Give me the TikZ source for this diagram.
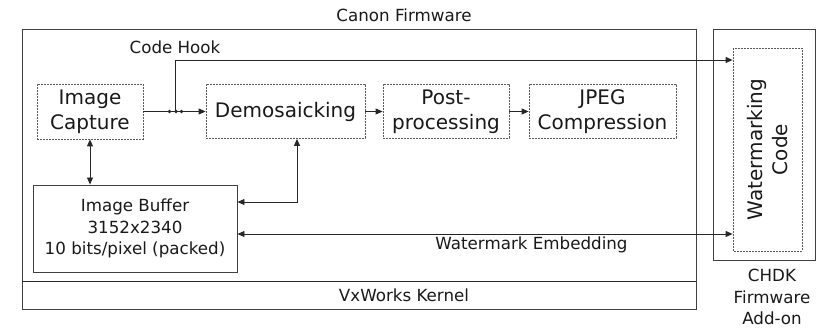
\documentclass[tikz,border=0pt]{standalone}
\usepackage{fontspec}
\setmainfont{DejaVu Sans}
\usetikzlibrary{arrows.meta}
\begin{document}
\begin{tikzpicture}[x=1pt,y=-1pt,
  every node/.style={text=black!90},
  big/.style={font=\fontsize{20}{25}\selectfont},
  small/.style={font=\fontsize{16.7}{21.5}\selectfont},
  dbox/.style={draw=black!65, dash pattern=on 2pt off 1pt, line width=0.8pt, inner sep=0pt, align=center, big},
  sbox/.style={draw=black!75, line width=0.9pt, inner sep=0pt},
  conn/.style={draw=black!85, line width=0.9pt},
  tip/.style={-{Triangle[length=7pt,width=6pt]}},
  tips/.style={{Triangle[length=7pt,width=6pt]}-{Triangle[length=7pt,width=6pt]}},
  lbl/.style={small, inner sep=0pt}
]
\useasboundingbox (0,0) rectangle (816,328);
% outer boxes
\node[sbox, minimum width=674pt, minimum height=280pt] (canon) at (359,169) {};
\coordinate (vxl) at (22,281);
\coordinate (vxr) at (696,281);
\draw[conn] (vxl) -- (vxr);
\node[sbox, minimum width=102pt, minimum height=231pt] (chdk) at (764,144.5) {};
% labels
\node[lbl] (lcanon) at (404,15) {Canon Firmware};
\node[lbl] (lvx) at (404,295) {VxWorks Kernel};
\node[lbl] (lhook) at (175,47) {Code Hook};
\node[lbl, align=center] (lchdk) at (772,297) {CHDK\\Firmware\\Add-on};
% pipeline boxes
\node[dbox, minimum width=106pt, minimum height=55pt] (ic) at (90,111.5) {Image\\Capture};
\node[dbox, minimum width=159pt, minimum height=54pt] (demo) at (285.5,111.5) {Demosaicking};
\node[dbox, minimum width=126pt, minimum height=54pt] (post) at (446,111.5) {Post-\\processing};
\node[dbox, minimum width=147pt, minimum height=54pt] (jpeg) at (602.5,111.5) {JPEG\\Compression};
\node[dbox, minimum width=203pt, minimum height=69pt, rotate=90] (wm) at (767.5,149.5) {Watermarking\\Code};
\node[sbox, minimum width=204pt, minimum height=87pt, align=center, small, text=black!90] (buf) at (135,228.5) {Image Buffer\\3152x2340\\10 bits/pixel (packed)};
% connectors
\coordinate (hook) at (175,111.5);
\coordinate (hooktop) at (175,60);
\draw[conn, tip] (ic.east |- hook) -- (demo.west |- hook);
\draw[conn, tip] (hook) -- (hooktop) -- (wm.north |- hooktop);
\fill[black!85] (169.5,111.5) circle (1.9pt) (176,111.5) circle (1.9pt) (181.5,111.5) circle (1.9pt);
\draw[conn, tip] (demo.east) -- (post.west);
\draw[conn, tip] (post.east) -- (jpeg.west);
\draw[conn, tips] (ic.south) -- (ic.south |- buf.north);
\coordinate (dm) at (297,202);
\draw[conn, tips] (demo.south -| dm) -- (dm) -- (buf.east |- dm);
\coordinate (we) at (0,234);
\draw[conn, tips] (buf.east |- we) -- (wm.north |- we);
\node[lbl] (lwe) at (531.5,245) {Watermark Embedding};
\end{tikzpicture}
\end{document}
